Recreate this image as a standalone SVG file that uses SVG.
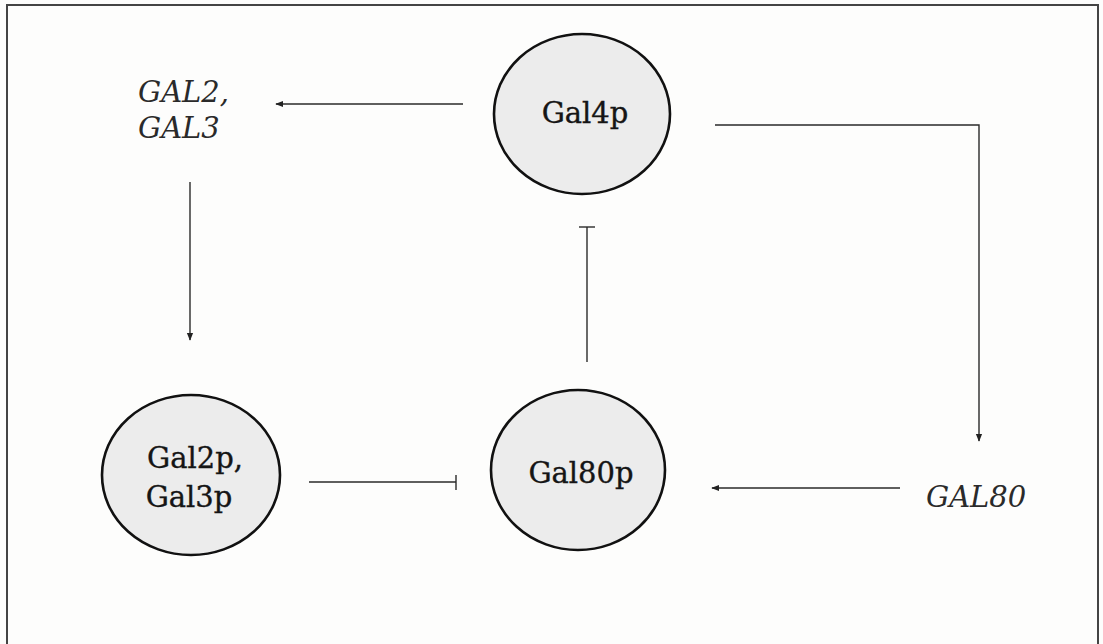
<svg xmlns="http://www.w3.org/2000/svg" width="1103" height="644" viewBox="0 0 1103 644">
  <defs>
    <marker id="arrow" viewBox="0 0 10 10" refX="9" refY="5" markerWidth="8" markerHeight="8" markerUnits="userSpaceOnUse" orient="auto">
      <path d="M0,1 L10,5 L0,9 Z" fill="#222"/>
    </marker>
  </defs>
  <style>
    .node { fill: #ececec; stroke: #111; stroke-width: 2.6; }
    .label { font-family: "DejaVu Serif", "Liberation Serif", serif; font-size: 29px; fill: #151515; stroke: #151515; stroke-width: 0.35; text-anchor: middle; }
    .gene { font-family: "DejaVu Serif", "Liberation Serif", serif; font-size: 29px; font-style: italic; fill: #2a2a2a; }
    .edge { fill: none; stroke: #2a2a2a; stroke-width: 1.4; }
  </style>
  <rect x="0" y="0" width="1103" height="644" fill="#fdfdfc"/>
  <!-- frame -->
  <path d="M7,650 L7,5 L1098,5 L1098,650" fill="none" stroke="#444" stroke-width="2"/>

  <g id="gal4p">
    <ellipse class="node" cx="582" cy="114" rx="88" ry="80"/>
    <text class="label" x="585" y="123">Gal4p</text>
  </g>
  <g id="gal80p">
    <ellipse class="node" cx="578" cy="470" rx="87" ry="80"/>
    <text class="label" x="581" y="483">Gal80p</text>
  </g>
  <g id="gal2p-gal3p">
    <ellipse class="node" cx="191" cy="475" rx="89" ry="80"/>
    <text class="label" x="195" y="468">Gal2p,</text>
    <text class="label" x="189" y="507">Gal3p</text>
  </g>
  <g id="gal2-gal3">
    <text class="gene" x="138" y="102">GAL2,</text>
    <text class="gene" x="138" y="138">GAL3</text>
  </g>
  <g id="gal80">
    <text class="gene" x="926" y="507" font-size="28.5">GAL80</text>
  </g>

  <g id="connectors">
    <!-- Gal4p activates GAL2, GAL3 -->
    <line class="edge" x1="463" y1="104" x2="276" y2="104" marker-end="url(#arrow)"/>
    <!-- Gal4p activates GAL80 -->
    <polyline class="edge" points="715,125 979,125 979,441" marker-end="url(#arrow)"/>
    <!-- GAL2, GAL3 expressed as Gal2p, Gal3p -->
    <line class="edge" x1="190" y1="182" x2="190" y2="340" marker-end="url(#arrow)"/>
    <!-- Gal80p inhibits Gal4p -->
    <line class="edge" x1="587" y1="362" x2="587" y2="227"/>
    <line class="edge" x1="579" y1="227" x2="595" y2="227"/>
    <!-- Gal2p, Gal3p inhibit Gal80p -->
    <line class="edge" x1="309" y1="482" x2="456" y2="482"/>
    <line class="edge" x1="456" y1="475" x2="456" y2="490"/>
    <!-- GAL80 expressed as Gal80p -->
    <line class="edge" x1="900" y1="488" x2="712" y2="488" marker-end="url(#arrow)"/>
  </g>
</svg>
